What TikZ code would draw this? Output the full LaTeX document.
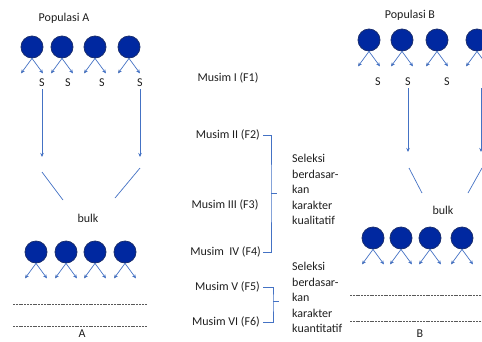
\documentclass[tikz,border=0pt]{standalone}
\usepackage{fontspec}
\setmainfont{Carlito}
\usetikzlibrary{arrows.meta}
\definecolor{popfill}{RGB}{0,40,160}
\definecolor{popdraw}{RGB}{25,45,110}
\definecolor{arrblue}{RGB}{68,114,196}
\definecolor{txtgray}{RGB}{30,30,30}
\begin{document}
\begin{tikzpicture}[x=1pt,y=-1pt,font=\fontsize{12}{15.5}\selectfont,text=txtgray,
  pop/.style={circle,fill=popfill,draw=popdraw,line width=0.8pt,minimum size=22pt,inner sep=0pt},
  lbl/.style={inner sep=0pt},
  arr/.style={draw=arrblue,line width=0.7pt,-{Stealth[length=4pt,width=3.5pt]}},
  ln/.style={draw=arrblue,line width=0.7pt},
  brace/.style={draw=arrblue,line width=0.6pt},
  dash line/.style={draw=gray!70!black,line width=0.5pt,dash pattern=on 2pt off 0.8pt}]
\useasboundingbox (0,0) rectangle (482,341);
% populasi A
\node[lbl] (popa) at (64,18) {Populasi A};
\node[pop] (a1) at (32,47) {};
\node[pop] (a2) at (62,47) {};
\node[pop] (a3) at (95,47) {};
\node[pop] (a4) at (129,47) {};
\node[lbl] (sa1) at (42,83) {S};
\node[lbl] (sa2) at (68,83) {S};
\node[lbl] (sa3) at (102,83) {S};
\node[lbl] (sa4) at (140,83) {S};
\coordinate (ta1) at (42,157);
\coordinate (ta4) at (140,157);
\coordinate (la1) at (42,172);
\coordinate (la2) at (63,200);
\coordinate (ra1) at (140,168);
\coordinate (ra2) at (115,198);
\node[lbl] (bulka) at (88,218) {bulk};
\node[pop] (ab1) at (36,252) {};
\node[pop] (ab2) at (66,252) {};
\node[pop] (ab3) at (95,252) {};
\node[pop] (ab4) at (125,252) {};
\coordinate (da1) at (13,304);
\coordinate (da2) at (147,304);
\coordinate (db1) at (13,326);
\coordinate (db2) at (147,326);
\node[lbl] (capa) at (82,334) {A};
% musim
\node[lbl] (m1) at (228,78) {Musim I (F1)};
\node[lbl,anchor=east] (m2) at (260,135) {Musim II (F2)};
\node[lbl] (m3) at (225,205) {Musim III (F3)};
\node[lbl,anchor=east] (m4) at (261,252) {Musim\ \ IV (F4)};
\node[lbl,anchor=east] (m5) at (260,287) {Musim V (F5)};
\node[lbl,anchor=east] (m6) at (260,322) {Musim VI (F6)};
\coordinate (bq) at (271,193);
\coordinate (bk) at (273,301);
\node[lbl,anchor=north west,align=left] (selq) at (292,154) {Seleksi\\berdasar-\\kan\\karakter\\kualitatif};
\node[lbl,anchor=north west,align=left] (selk) at (292,262) {Seleksi\\berdasar-\\kan\\karakter\\kuantitatif};
% populasi B
\node[lbl] (popb) at (410,15) {Populasi B};
\node[pop] (b1) at (369,40) {};
\node[pop] (b2) at (402,40) {};
\node[pop] (b3) at (437,40) {};
\node[pop] (b4) at (477,40) {};
\node[lbl] (sb1) at (378,82) {S};
\node[lbl] (sb2) at (408,82) {S};
\node[lbl] (sb3) at (447,82) {S};
\coordinate (sb4) at (481,88);
\coordinate (tb1) at (408,152);
\coordinate (tb4) at (481,152);
\coordinate (lb1) at (409,168);
\coordinate (lb2) at (422,193);
\coordinate (rb1) at (482,168);
\coordinate (rb2) at (468,193);
\node[lbl] (bulkb) at (443,210) {bulk};
\node[pop] (bb1) at (373,238) {};
\node[pop] (bb2) at (401,238) {};
\node[pop] (bb3) at (430,238) {};
\node[pop] (bb4) at (462,238) {};
\coordinate (dc1) at (350,295);
\coordinate (dc2) at (482,295);
\coordinate (dd1) at (350,321);
\coordinate (dd2) at (482,321);
\node[lbl] (capb) at (420,334) {B};
% small arrows
\foreach \c in {a1,a2,a3,a4,ab1,ab2,ab3,ab4,b1,b2,b3,b4,bb1,bb2,bb3,bb4}
  \draw[arr] (\c.south) edge +(-11,15) (\c.south) -- +(11,15);
% selection
\draw[arr] (sa1) ++(0,6) -- (ta1);
\draw[arr] (sa4) ++(0,6) -- (ta4);
\draw[ln] (la1) -- (la2);
\draw[ln] (ra1) -- (ra2);
\draw[arr] (sb2) ++(0,6) -- (tb1);
\draw[arr] (sb4) -- (tb4);
\draw[ln] (lb1) -- (lb2);
\draw[ln] (rb1) -- (rb2);
\draw[dash line] (da1) -- (da2);
\draw[dash line] (db1) -- (db2);
\draw[dash line] (dc1) -- (dc2);
\draw[dash line] (dd1) -- (dd2);
% braces
\draw[brace] ([xshift=3pt]m2.east) -| (bq) |- ([xshift=2pt]m4.east);
\draw[brace] (bq) -- ++(6,0);
\draw[brace] ([xshift=3pt]m5.east) -| (bk) |- ([xshift=3pt]m6.east);
\draw[brace] (bk) -- ++(6,0);
\end{tikzpicture}
\end{document}
